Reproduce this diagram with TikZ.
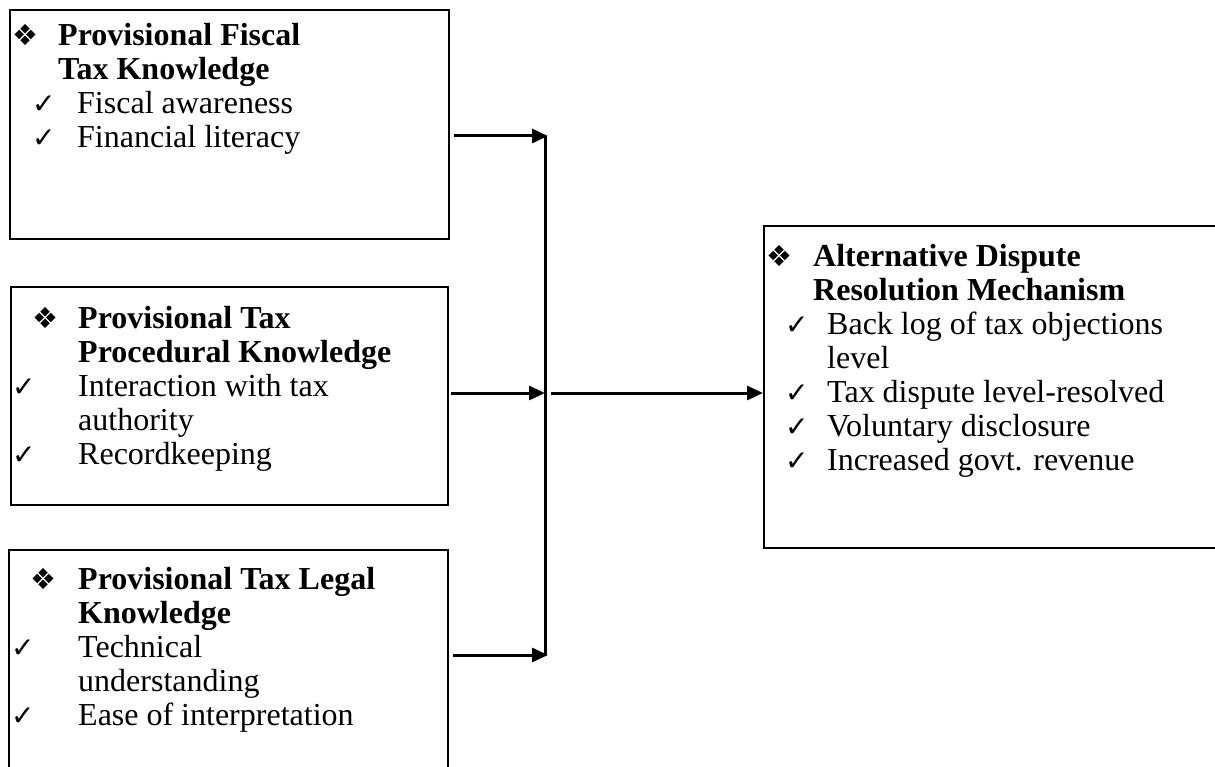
\documentclass[tikz,border=0pt]{standalone}
\usepackage{fontspec}
\setmainfont{Liberation Serif}
\newfontfamily\symf{DejaVu Sans}
\usetikzlibrary{arrows.meta,calc}
\newcommand{\dia}{{\symf\fontsize{29}{34}\selectfont ❖}}
\newcommand{\chk}{{\symf\fontsize{28}{34}\selectfont ✓}}
\renewcommand{\arraystretch}{1}
\begin{document}
\begin{tikzpicture}[x=1pt,y=-1pt,
  boxst/.style={draw, line width=2pt, rectangle, inner sep=0pt, anchor=north west},
  txt/.style={anchor=base west, inner sep=0pt, font=\fontsize{32}{34}\selectfont},
  conn/.style={line width=3pt},
  arr/.style={line width=3pt, -{Triangle[length=16pt,width=14pt]}},
  ]
\useasboundingbox (0,0) rectangle (1215,767);
\clip (0,0) rectangle (1215,767);
% boxes
\node[boxst, minimum width=439pt, minimum height=229pt] (b1) at (9,9) {};
\node[boxst, minimum width=437pt, minimum height=218pt] (b2) at (10,286) {};
\node[boxst, minimum width=439pt, minimum height=300pt] (b3) at (8,549) {};
\node[boxst, minimum width=600pt, minimum height=322pt] (b4) at (763,225) {};
% texts
\node[txt] (t1) at (12,46) {\begin{tabular}[t]{@{}l@{}}
\makebox[46pt][l]{\dia}\textbf{Provisional Fiscal}\\
\hspace*{46pt}\textbf{Tax Knowledge}\\
\hspace*{20pt}\makebox[45pt][l]{\chk}Fiscal awareness\\
\hspace*{20pt}\makebox[45pt][l]{\chk}Financial literacy
\end{tabular}};
\node[txt] (t2) at (11,328) {\begin{tabular}[t]{@{}l@{}}
\hspace*{21pt}\makebox[46pt][l]{\dia}\textbf{Provisional Tax}\\
\hspace*{67pt}\textbf{Procedural Knowledge}\\
\hspace*{1pt}\makebox[66pt][l]{\chk}Interaction with tax\\
\hspace*{67pt}authority\\
\hspace*{1pt}\makebox[66pt][l]{\chk}Recordkeeping
\end{tabular}};
\node[txt] (t3) at (10,589) {\begin{tabular}[t]{@{}l@{}}
\hspace*{20pt}\makebox[48pt][l]{\dia}\textbf{Provisional Tax Legal}\\
\hspace*{68pt}\textbf{Knowledge}\\
\hspace*{1pt}\makebox[67pt][l]{\chk}Technical\\
\hspace*{68pt}understanding\\
\hspace*{1pt}\makebox[67pt][l]{\chk}Ease of interpretation
\end{tabular}};
\node[txt] (t4) at (766,267) {\begin{tabular}[t]{@{}l@{}}
\makebox[47pt][l]{\dia}\textbf{Alternative Dispute}\\
\hspace*{47pt}\textbf{Resolution Mechanism}\\
\hspace*{19pt}\makebox[42pt][l]{\chk}Back log of tax objections\\
\hspace*{61pt}level\\
\hspace*{19pt}\makebox[42pt][l]{\chk}Tax dispute level-resolved\\
\hspace*{19pt}\makebox[42pt][l]{\chk}Voluntary disclosure\\
\hspace*{19pt}\makebox[42pt][l]{\chk}Increased govt. revenue
\end{tabular}};
% connectors
\coordinate (j1) at (545,136);
\coordinate (j2) at (545,393);
\coordinate (j3) at (545,655);
\draw[conn] (j1) -- (j3);
\draw[arr] ($(b1.east |- j1)+(4,0)$) -- ($(j1)+(3,0)$);
\draw[arr] ($(b2.east |- j2)+(2,0)$) -- (j2);
\draw[arr] ($(b3.east |- j3)+(4,0)$) -- ($(j3)+(3,0)$);
\draw[arr] ($(j2)+(6,0)$) -- (b4.west |- j2);
\end{tikzpicture}
\end{document}
